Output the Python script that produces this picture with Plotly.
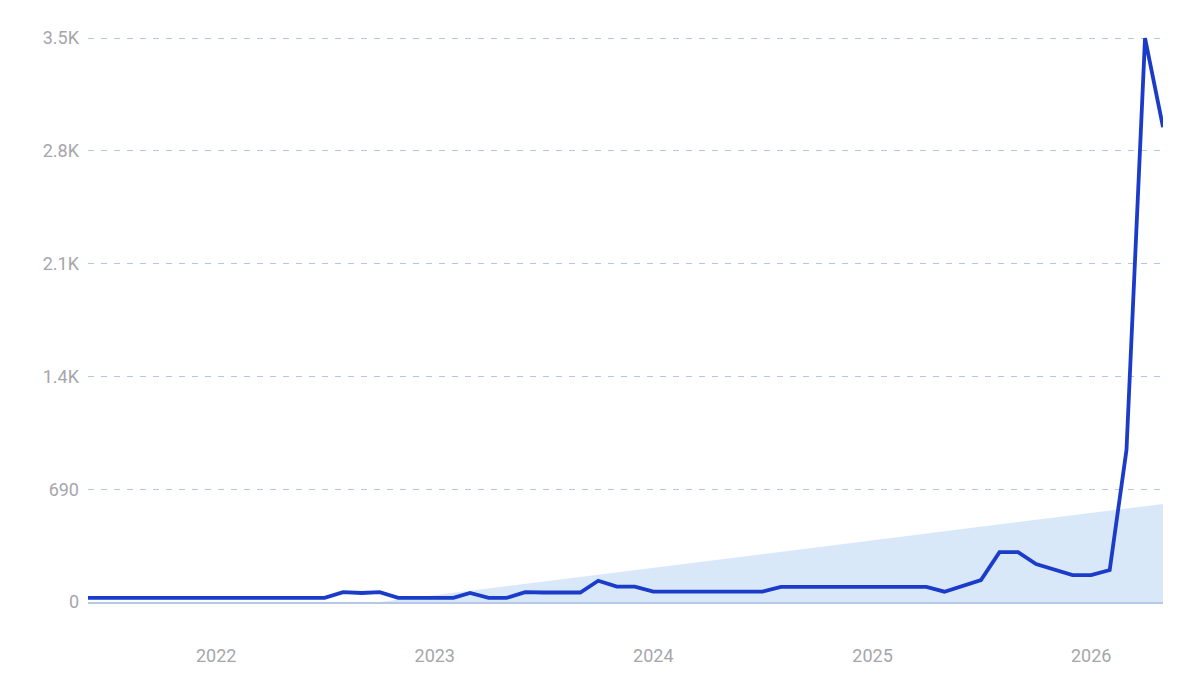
import pandas as pd
import plotly.graph_objects as go

# monthly values
months = pd.date_range("2021-06-01", "2026-05-01", freq="MS").strftime("%Y-%m-%d").tolist()
values = [
    25, 25, 25, 25, 25, 25, 25,            # 2021-06 .. 2021-12
    25, 25, 25, 25, 25, 25, 25,            # 2022-01 .. 2022-07
    60, 55, 60, 25, 25,                    # 2022-08 .. 2022-12
    25, 25, 55, 25, 25, 60, 58, 58, 58,    # 2023-01 .. 2023-09
    130, 94, 94,                           # 2023-10 .. 2023-12
    63, 63, 63, 63, 63, 63, 63,            # 2024-01 .. 2024-07
    92, 92, 92, 92, 92,                    # 2024-08 .. 2024-12
    92, 92, 92, 92, 63, 98, 134,           # 2025-01 .. 2025-07
    305, 305, 232, 200, 165,               # 2025-08 .. 2025-12
    165, 196, 930, 3450, 2905,             # 2026-01 .. 2026-05
]

# shaded trend band (two end points)
trend_dates = ["2022-10-01", "2026-05-01"]
trend_values = [0, 600]

y_ticks = [0, 690, 1380, 2070, 2760, 3450]
y_labels = ["0", "690", "1.4K", "2.1K", "2.8K", "3.5K"]

fig = go.Figure()

fig.add_trace(go.Scatter(
    x=trend_dates, y=trend_values,
    mode="lines", line=dict(width=0),
    fill="tozeroy", fillcolor="rgba(204,224,247,0.75)",
    hoverinfo="skip", showlegend=False,
))

fig.add_trace(go.Scatter(
    x=months, y=values,
    mode="lines", line=dict(color="#1a3cc8", width=3.8),
    cliponaxis=False, showlegend=False,
))

# the page body has an 8px margin, so the margins are shifted by that
fig.update_layout(
    width=1200, height=693,
    margin=dict(l=80, r=45, t=28, b=99),
    paper_bgcolor="white", plot_bgcolor="white",
    font=dict(family="Roboto", size=18, color="#a6a6ab"),
)

fig.update_xaxes(
    type="date",
    range=["2021-06-01", "2026-05-01"],
    dtick="M12", tickformat="%Y",
    showgrid=False, zeroline=False,
    showline=True, linecolor="#b5c8e6", linewidth=1.5,
    ticks="", ticklabelstandoff=37,
)

fig.update_yaxes(
    range=[0, 3463],
    tickvals=y_ticks, ticktext=y_labels,
    showgrid=True, gridcolor="#b3c6e4", griddash="6px,7px", gridwidth=1.3,
    zeroline=False, showline=False,
    ticks="", ticklabelstandoff=8,
)

fig.write_html("out.html")
